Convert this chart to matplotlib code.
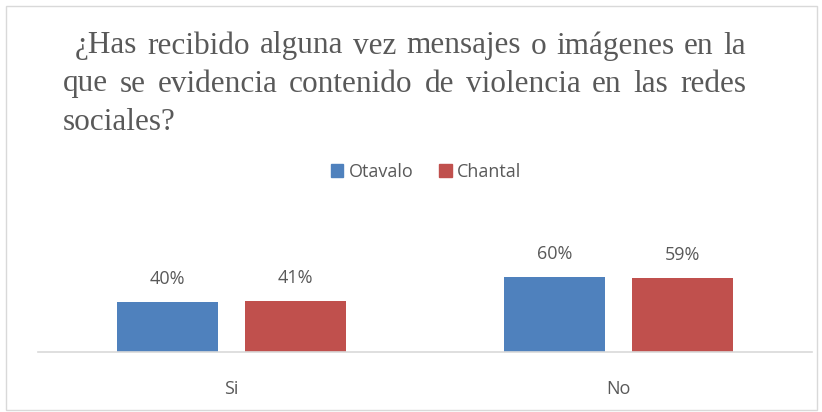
import matplotlib.pyplot as plt
from matplotlib.patches import Rectangle, Patch
from matplotlib import font_manager
import numpy as np

# datos
categorias = ["Si", "No"]
otavalo = [0.40, 0.60]
chantal = [0.41, 0.59]
etiquetas_otavalo = ["40%", "60%"]
etiquetas_chantal = ["41%", "59%"]
titulo = [" ¿Has recibido alguna vez mensajes o imágenes en la",
          "que se evidencia contenido de violencia en las redes",
          "sociales?"]

AZUL = "#4F81BD"
ROJO = "#C0504D"
GRIS = "#595959"

# fuente estrecha parecida a Calibri si existe
nombres = {f.name for f in font_manager.fontManager.ttflist}
SANS = "Liberation Sans Narrow" if "Liberation Sans Narrow" in nombres else "Open Sans"
FS = 14 if SANS == "Liberation Sans Narrow" else 13

W, H = 822, 412
fig = plt.figure(figsize=(W / 100, H / 100), dpi=100)
fig.patch.set_facecolor("white")

# borde del grafico
fig.patches.append(Rectangle((6 / W, 2 / H), 811 / W, 404 / H, transform=fig.transFigure,
                             fill=False, edgecolor="#D9D9D9", linewidth=1.0))

# ejes: x de 38 a 812 px, base en y=352
ax = fig.add_axes([38 / W, (H - 352) / H, 774 / W, 100 / H])
x = np.arange(len(categorias))
ancho = 0.261
desp = 0.165
b1 = ax.bar(x - desp, otavalo, ancho, color=AZUL, label="Otavalo")
b2 = ax.bar(x + desp, chantal, ancho, color=ROJO, label="Chantal")
ax.set_xlim(-0.5, 1.5)
ax.set_ylim(0, 0.8)
for s in ["top", "left", "right"]:
    ax.spines[s].set_visible(False)
ax.spines["bottom"].set_color("#D9D9D9")
ax.spines["bottom"].set_linewidth(1.2)
ax.set_yticks([])
ax.set_xticks(x)
ax.set_xticklabels(categorias, fontsize=FS, color=GRIS, family=SANS)
ax.tick_params(axis="x", length=0, pad=20)

for bars, labs in ((b1, etiquetas_otavalo), (b2, etiquetas_chantal)):
    for b, t in zip(bars, labs):
        ax.annotate(t, (b.get_x() + b.get_width() / 2, b.get_height()),
                    xytext=(0, 10), textcoords="offset points", ha="center", va="bottom",
                    fontsize=FS, color=GRIS, family=SANS, annotation_clip=False)

# leyenda
fig.legend(handles=[Patch(color=AZUL, label="Otavalo"), Patch(color=ROJO, label="Chantal")],
           loc="center", bbox_to_anchor=(426 / W, 1 - 172 / H), ncol=2, frameon=False,
           handlelength=0.7, handleheight=0.7, handletextpad=0.3,
           columnspacing=1.4, labelcolor=GRIS, prop={"family": SANS, "size": FS})

# titulo justificado
fig.canvas.draw()
r = fig.canvas.get_renderer()
izq, der = 63, 746
ys = [46, 84, 122]
fs = 22.5
for i, (linea, yc) in enumerate(zip(titulo, ys)):
    palabras = linea.strip().split(" ")
    x0 = izq + (12 if i == 0 else 0)
    textos = []
    for p in palabras:
        t = fig.text(0, 1 - yc / H, p, fontsize=fs, family="Liberation Serif", color=GRIS,
                     va="center", ha="left")
        textos.append(t)
    anchos = [t.get_window_extent(r).width for t in textos]
    if i < len(titulo) - 1 and len(palabras) > 1:
        hueco = (der - x0 - sum(anchos)) / (len(palabras) - 1)
    else:
        hueco = fs * 0.35
    xx = x0
    for t, a in zip(textos, anchos):
        t.set_x(xx / W)
        xx += a + hueco

fig.savefig("out.png", dpi=100)
